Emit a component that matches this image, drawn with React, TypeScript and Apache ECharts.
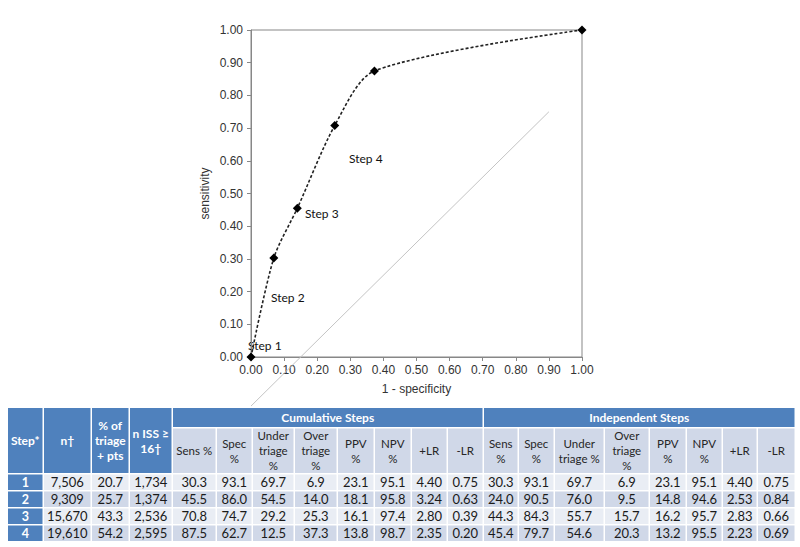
import React, { useEffect, useRef } from "react";
import * as echarts from "echarts";

// ROC curve (cumulative steps)
const oneMinusSpec = [0, 0.069, 0.14, 0.253, 0.373, 1];
const sensitivity = [0, 0.303, 0.455, 0.708, 0.875, 1];
// grey reference line
const refX = [0, 0.9];
const refY = [-0.15, 0.75];
const stepLabels = ["Step 1", "Step 2", "Step 3", "Step 4"];

// table data
const steps = ["1", "2", "3", "4"];
const nPts = [7506, 9309, 15670, 19610];
const pctTriage = [20.7, 25.7, 43.3, 54.2];
const nISS = [1734, 1374, 2536, 2595];
const cumSens = [30.3, 45.5, 70.8, 87.5];
const cumSpec = [93.1, 86.0, 74.7, 62.7];
const cumUnder = [69.7, 54.5, 29.2, 12.5];
const cumOver = [6.9, 14.0, 25.3, 37.3];
const cumPPV = [23.1, 18.1, 16.1, 13.8];
const cumNPV = [95.1, 95.8, 97.4, 98.7];
const cumPLR = [4.4, 3.24, 2.8, 2.35];
const cumNLR = [0.75, 0.63, 0.39, 0.2];
const indSens = [30.3, 24.0, 44.3, 45.4];
const indSpec = [93.1, 90.5, 84.3, 79.7];
const indUnder = [69.7, 76.0, 55.7, 54.6];
const indOver = [6.9, 9.5, 15.7, 20.3];
const indPPV = [23.1, 14.8, 16.2, 13.2];
const indNPV = [95.1, 94.6, 95.7, 95.5];
const indPLR = [4.4, 2.53, 2.83, 2.23];
const indNLR = [0.75, 0.84, 0.66, 0.69];

const leftHeaders = ["Step*", "n\u2020", "% of\ntriage\n+ pts", "n ISS \u2265\n16\u2020"];
const groupHeaders = ["Cumulative Steps", "Independent Steps"];
const cumSubHeaders = ["Sens %", "Spec\n%", "Under\ntriage\n%", "Over\ntriage\n%", "PPV\n%", "NPV\n%", "+LR", "-LR"];
const indSubHeaders = ["Sens\n%", "Spec\n%", "Under\ntriage %", "Over\ntriage\n%", "PPV\n%", "NPV\n%", "+LR", "-LR"];

const colEdges = [8, 44, 92, 130, 173, 217, 253, 295, 338, 375, 412, 448, 484, 519, 555, 605, 650, 687, 723, 758, 796];
const rowEdges = [408, 428.5, 474.5, 491.5, 508.5, 525.5, 542.5];
const GAP = 1.5;
const BLUE = "#4f81bd";
const LIGHT = "#e9edf4";
const MID = "#d0d8e8";
const TFONT = "Lato, 'Open Sans', sans-serif";

function buildTable() {
  const els: any[] = [];
  const cell = (c0: number, c1: number, r0: number, r1: number, fill: string, text: string, color: string, font: string, lh = 14) => {
    const x0 = colEdges[c0];
    const x1 = colEdges[c1] - GAP;
    const y0 = rowEdges[r0];
    const y1 = rowEdges[r1] - GAP;
    els.push({ type: "rect", silent: true, shape: { x: x0, y: y0, width: x1 - x0, height: y1 - y0 }, style: { fill } });
    els.push({
      type: "text",
      silent: true,
      x: (x0 + x1) / 2,
      y: (y0 + y1) / 2,
      style: {
        text,
        fill: color,
        font,
        lineHeight: lh,
        textAlign: "center",
        textVerticalAlign: "middle",
        align: "center",
        verticalAlign: "middle",
      },
    });
  };
  leftHeaders.forEach((h, i) => cell(i, i + 1, 0, 2, BLUE, h, "#ffffff", `bold 12px ${TFONT}`, 15));
  cell(4, 12, 0, 1, BLUE, groupHeaders[0], "#ffffff", `bold 12px ${TFONT}`);
  cell(12, 20, 0, 1, BLUE, groupHeaders[1], "#ffffff", `bold 12px ${TFONT}`);
  cumSubHeaders.forEach((h, i) => cell(4 + i, 5 + i, 1, 2, MID, h, "#262626", `11.5px ${TFONT}`, 15));
  indSubHeaders.forEach((h, i) => cell(12 + i, 13 + i, 1, 2, MID, h, "#262626", `11.5px ${TFONT}`, 15));
  const f1 = (v: number) => v.toFixed(1);
  const f2 = (v: number) => v.toFixed(2);
  const fn = (v: number) => v.toLocaleString("en-US");
  const cols: [number[], (v: number) => string][] = [
    [nPts, fn], [pctTriage, f1], [nISS, fn],
    [cumSens, f1], [cumSpec, f1], [cumUnder, f1], [cumOver, f1], [cumPPV, f1], [cumNPV, f1], [cumPLR, f2], [cumNLR, f2],
    [indSens, f1], [indSpec, f1], [indUnder, f1], [indOver, f1], [indPPV, f1], [indNPV, f1], [indPLR, f2], [indNLR, f2],
  ];
  steps.forEach((s, r) => {
    const bg = r % 2 === 0 ? LIGHT : MID;
    cell(0, 1, 2 + r, 3 + r, BLUE, s, "#ffffff", `bold 12.5px ${TFONT}`);
    cols.forEach(([arr, fmt], c) => cell(1 + c, 2 + c, 2 + r, 3 + r, bg, fmt(arr[r]), "#1a1a1a", `13px ${TFONT}`));
  });
  return els;
}

const stepLabelPos = [
  [248, 345],
  [271, 297],
  [305, 213],
  [349, 158],
];

export default function App() {
  const ref = useRef<HTMLDivElement>(null);
  useEffect(() => {
    if (!ref.current) return;
    const chart = echarts.init(ref.current, null, { renderer: "svg" });
    const axisFont = { fontFamily: "'Liberation Sans', Arial, sans-serif", fontSize: 12, color: "#333333" };
    const labelEls = stepLabels.map((t, i) => ({
      type: "text",
      silent: true,
      x: stepLabelPos[i][0],
      y: stepLabelPos[i][1],
      style: { text: t, fill: "#111111", font: `12px ${TFONT}`, textVerticalAlign: "middle", verticalAlign: "middle" },
    }));
    chart.setOption({
      animation: false,
      backgroundColor: "#ffffff",
      grid: { left: 251, right: 218, top: 30, bottom: 190, show: true, borderColor: "#878787", borderWidth: 1, backgroundColor: "transparent" },
      xAxis: {
        type: "value",
        min: 0,
        max: 1,
        interval: 0.1,
        name: "1 - specificity",
        nameLocation: "middle",
        nameGap: 26,
        nameTextStyle: { ...axisFont },
        axisLine: { show: true, onZero: false, lineStyle: { color: "#878787" } },
        axisTick: { show: true, length: 4, lineStyle: { color: "#878787" } },
        splitLine: { show: false },
        axisLabel: { ...axisFont, margin: 7, formatter: (v: number) => v.toFixed(2) },
      },
      yAxis: {
        type: "value",
        min: 0,
        max: 1,
        interval: 0.1,
        name: "sensitivity",
        nameLocation: "middle",
        nameGap: 40,
        nameTextStyle: { ...axisFont },
        axisLine: { show: true, onZero: false, lineStyle: { color: "#878787" } },
        axisTick: { show: true, length: 4, lineStyle: { color: "#878787" } },
        splitLine: { show: false },
        axisLabel: { ...axisFont, margin: 8, formatter: (v: number) => v.toFixed(2) },
      },
      series: [
        {
          type: "line",
          data: refX.map((x, i) => [x, refY[i]]),
          clip: false,
          symbol: "none",
          lineStyle: { color: "#c4c4c4", width: 1 },
          silent: true,
          z: 1,
        },
        {
          type: "line",
          data: oneMinusSpec.map((x, i) => [x, sensitivity[i]]),
          smooth: 0.28,
          symbol: "diamond",
          symbolSize: 9,
          itemStyle: { color: "#000000" },
          lineStyle: { color: "#222222", width: 1.6, type: [3, 2] },
          z: 3,
        },
      ],
      graphic: { elements: [...labelEls, ...buildTable()] },
    });
    return () => chart.dispose();
  }, []);
  return <div ref={ref} style={{ position: "absolute", left: 0, top: 0, width: 800, height: 547 }} />;
}
